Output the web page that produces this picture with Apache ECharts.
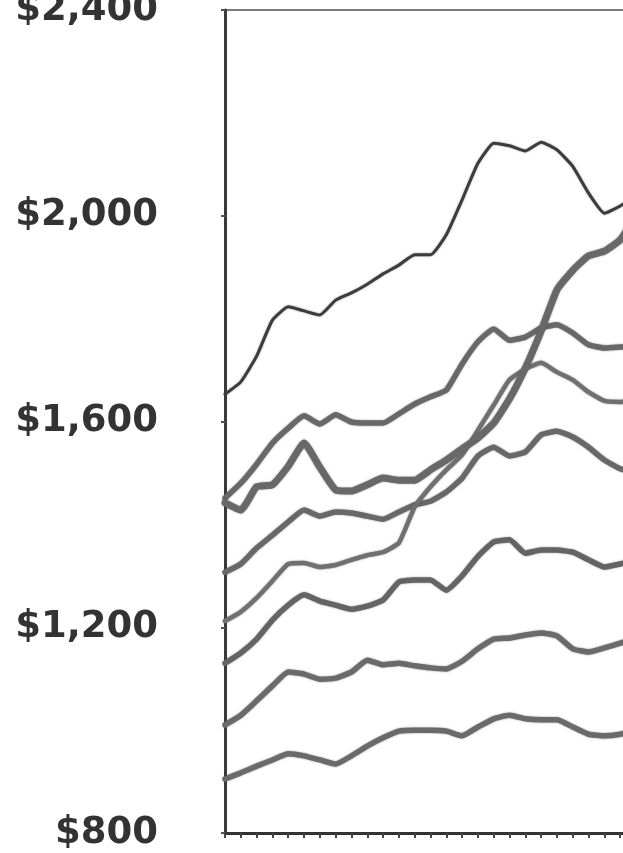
<!DOCTYPE html>
<html>
<head>
<meta charset="utf-8">
<script src="https://cdn.jsdelivr.net/npm/echarts@6/dist/echarts.min.js"></script>
<style>
  html, body { margin: 0; padding: 0; background: #ffffff; }
  #chart { width: 623px; height: 853px; }
</style>
</head>
<body>
<div id="chart"></div>
<script>
// Period index along the horizontal axis (quarterly ticks)
const periods = Array.from({ length: 27 }, (_, i) => String(i + 1));

// Value axis ticks
const yTicks = [800, 1200, 1600, 2000, 2400];

// Monthly cost series, one array per line (top to bottom at the start)
const seriesTop = [1653, 1677, 1727, 1797, 1823, 1815, 1807, 1836, 1850, 1867, 1887, 1904, 1924, 1924, 1963, 2031, 2102, 2141, 2136, 2126, 2143, 2128, 2096, 2044, 2005, 2019, 2040];
const seriesSteep = [1442, 1428, 1473, 1477, 1513, 1558, 1511, 1467, 1465, 1477, 1490, 1486, 1486, 1506, 1525, 1547, 1568, 1597, 1644, 1704, 1776, 1856, 1894, 1922, 1931, 1953, 2001];
const seriesUpper = [1451, 1480, 1517, 1558, 1587, 1611, 1595, 1613, 1599, 1597, 1597, 1615, 1634, 1648, 1661, 1712, 1755, 1780, 1758, 1764, 1782, 1788, 1772, 1749, 1743, 1745, 1745];
const seriesMidHigh = [1307, 1323, 1354, 1379, 1405, 1428, 1416, 1424, 1422, 1416, 1410, 1424, 1438, 1445, 1463, 1490, 1533, 1550, 1533, 1541, 1574, 1581, 1570, 1550, 1525, 1508, 1500];
const seriesClimb = [1212, 1230, 1257, 1290, 1323, 1325, 1317, 1321, 1331, 1340, 1346, 1364, 1434, 1473, 1506, 1535, 1583, 1632, 1681, 1702, 1714, 1696, 1681, 1657, 1640, 1638, 1642];
const seriesMid = [1130, 1150, 1177, 1214, 1243, 1263, 1251, 1243, 1235, 1241, 1253, 1288, 1292, 1292, 1272, 1300, 1338, 1366, 1370, 1344, 1350, 1350, 1346, 1331, 1317, 1323, 1331];
const seriesLow = [1010, 1029, 1057, 1086, 1113, 1109, 1099, 1101, 1113, 1136, 1127, 1130, 1125, 1121, 1119, 1134, 1158, 1177, 1179, 1185, 1189, 1183, 1158, 1152, 1160, 1169, 1179];
const seriesBottom = [905, 917, 930, 942, 954, 950, 942, 934, 950, 969, 985, 998, 1000, 1000, 998, 989, 1006, 1022, 1029, 1022, 1020, 1020, 1006, 992, 989, 992, 1000];

function line(name, data, width, color) {
  return {
    name: name,
    type: 'line',
    data: data,
    symbol: 'none',
    smooth: 0.15,
    lineStyle: {
      width: width,
      color: color,
      cap: 'round',
      join: 'round',
      shadowColor: 'rgba(60,60,60,0.55)',
      shadowBlur: 2
    },
    emphasis: { disabled: true }
  };
}

const chart = echarts.init(document.getElementById('chart'), null, { renderer: 'canvas' });

chart.setOption({
  animation: false,
  backgroundColor: '#ffffff',
  grid: {
    left: 225,
    right: -13,
    top: 10,
    bottom: 20,
    outerBoundsMode: 'none',
    containLabel: false,
    show: true,
    borderColor: '#7a7a7a',
    borderWidth: 2,
    backgroundColor: 'transparent'
  },
  xAxis: {
    type: 'category',
    data: periods,
    boundaryGap: false,
    axisLine: { show: true, lineStyle: { color: '#333333', width: 3 } },
    axisTick: { show: true, interval: 0, length: 5, lineStyle: { color: '#444444', width: 2 } },
    axisLabel: { show: false },
    splitLine: { show: false }
  },
  yAxis: {
    type: 'value',
    min: yTicks[0],
    max: yTicks[yTicks.length - 1],
    interval: yTicks[1] - yTicks[0],
    axisLine: { show: true, lineStyle: { color: '#3a3a3a', width: 3 } },
    axisTick: { show: true, length: 4, lineStyle: { color: '#555555', width: 2 } },
    splitLine: { show: false },
    axisLabel: {
      margin: 67,
      color: '#333333',
      fontFamily: 'DejaVu Sans',
      fontWeight: 'bold',
      fontSize: 37,
      formatter: v => '$' + v.toLocaleString('en-US')
    }
  },
  series: [
    line('Bottom', seriesBottom, 5.5, '#6a6a6a'),
    line('Low', seriesLow, 5.5, '#6a6a6a'),
    line('Mid', seriesMid, 5.5, '#646464'),
    line('Mid high', seriesMidHigh, 5.5, '#686868'),
    line('Climb', seriesClimb, 4.5, '#707070'),
    line('Upper', seriesUpper, 5.5, '#686868'),
    line('Steep', seriesSteep, 7, '#686868'),
    line('Top', seriesTop, 3, '#3c3c3c')
  ]
});
</script>
</body>
</html>
